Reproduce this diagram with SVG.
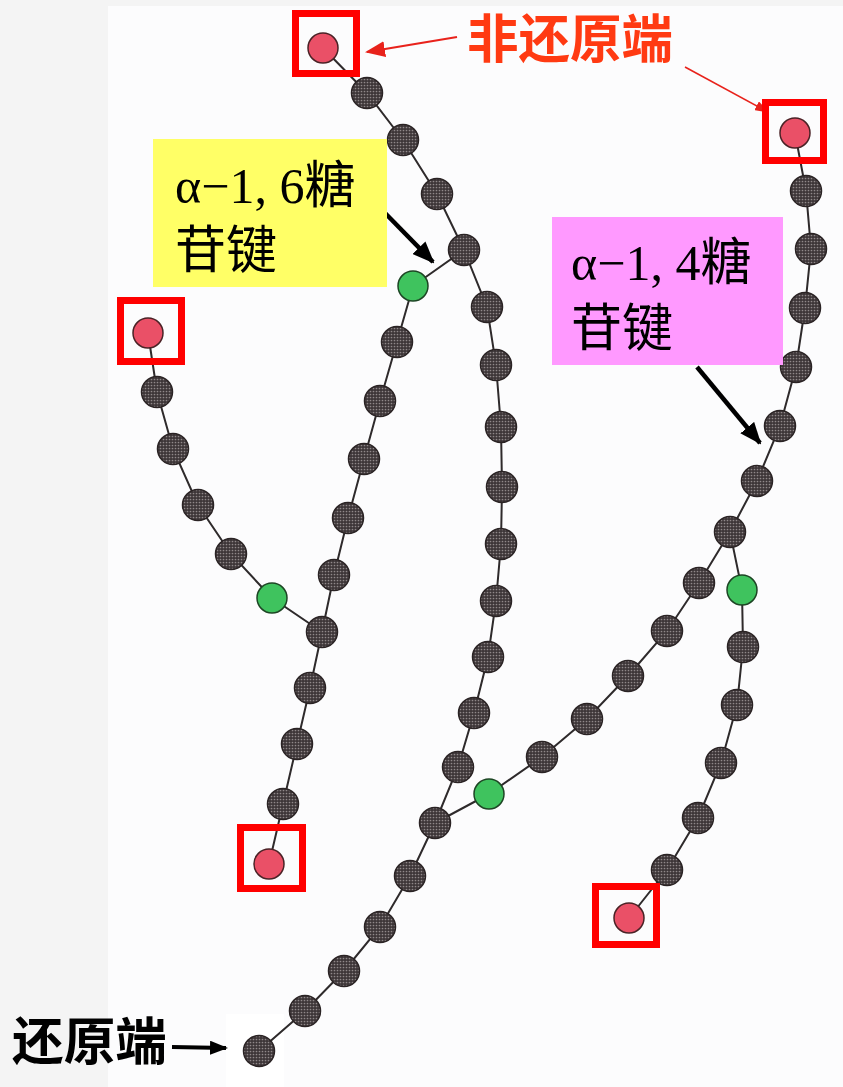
<svg xmlns="http://www.w3.org/2000/svg" width="843" height="1087" viewBox="0 0 843 1087">
  <style>
    .edge { stroke: #2e2a2b; stroke-width: 2; fill: none; stroke-linecap: round; }
    .glc { fill: url(#dots); stroke: #2a2324; stroke-width: 1.5; }
    .end { fill: #ea5067; stroke: #4a2226; stroke-width: 1.5; }
    .branch { fill: #3fc35e; stroke: #1d4524; stroke-width: 1.5; }
    .endbox { fill: none; stroke: #ff0000; stroke-width: 7; }
    .red-label { font-family: "Noto Sans CJK SC", sans-serif; font-weight: 700; font-size: 52px; fill: #ff3a12; }
    .black-label { font-family: "Noto Sans CJK SC", sans-serif; font-weight: 700; font-size: 51px; fill: #000000; }
    .box-label { font-family: "Liberation Serif", "Noto Sans CJK SC", serif; font-size: 50px; fill: #000000; }
    .cjk { font-family: "Noto Sans CJK SC", sans-serif; font-size: 51px; }
  </style>
  <defs>
    <!-- halftone dots used for the ordinary glucose residues -->
    <pattern id="dots" patternUnits="userSpaceOnUse" width="3" height="3">
      <rect width="3" height="3" fill="#3d3638"/>
      <circle cx="1.5" cy="1.5" r="0.85" fill="#908889"/>
    </pattern>
    <marker id="redHead" markerUnits="userSpaceOnUse" markerWidth="20" markerHeight="16" refX="18" refY="8" orient="auto">
      <path d="M0,0 L20,8 L0,16 Z" fill="#e8221b"/>
    </marker>
    <marker id="redHeadSmall" markerUnits="userSpaceOnUse" markerWidth="14" markerHeight="10" refX="13" refY="5" orient="auto">
      <path d="M0,0 L14,5 L0,10 Z" fill="#e8221b"/>
    </marker>
    <marker id="blackHead" markerUnits="userSpaceOnUse" markerWidth="22" markerHeight="18" refX="20" refY="9" orient="auto">
      <path d="M0,0 L22,9 L0,18 Z" fill="#000000"/>
    </marker>
    <marker id="blackHeadSmall" markerUnits="userSpaceOnUse" markerWidth="18" markerHeight="14" refX="16" refY="7" orient="auto">
      <path d="M0,0 L18,7 L0,14 Z" fill="#000000"/>
    </marker>
  </defs>

  <!-- page background -->
  <rect x="0" y="0" width="843" height="1087" fill="#f4f4f4"/>
  <rect x="108" y="6" width="735" height="1081" fill="#fcfcfd"/>
  <rect x="226" y="1014" width="58" height="73" fill="#ffffff"/>

  <!-- glycosidic bonds -->
  <g id="connectors">
    <polyline class="edge" points="323,48 367,93 403,140 437,194 464,250"/>
    <polyline class="edge" points="464,250 413,286 397,342 380,401 364,459 348,518 334,575 322,632 310,688 297,744 283,804 269,864"/>
    <polyline class="edge" points="148,333 157,392 173,449 198,505 231,554 272,598 322,632"/>
    <polyline class="edge" points="464,250 487,307 496,365 501,427 502,487 501,544 496,601 488,657 474,713 458,767 435,823 410,876 380,927 344,971 305,1011 259,1051"/>
    <line class="edge" x1="489" y1="794" x2="435" y2="823"/>
    <polyline class="edge" points="795,133 806,191 811,249 805,308 796,367 780,426 757,481 730,532 699,583 667,631 628,676 587,719 542,757 489,794"/>
    <polyline class="edge" points="730,532 742,590 743,647 737,705 721,763 698,818 667,870 629,918"/>
    <!-- annotation arrows -->
    <line x1="457" y1="37" x2="367" y2="52" stroke="#e8221b" stroke-width="2" marker-end="url(#redHead)"/>
    <line x1="685" y1="67" x2="768" y2="112" stroke="#e8221b" stroke-width="1.6" marker-end="url(#redHeadSmall)"/>
    <line x1="385" y1="213" x2="433" y2="262" stroke="#000" stroke-width="4.5" marker-end="url(#blackHead)"/>
    <line x1="697" y1="367" x2="760" y2="443" stroke="#000" stroke-width="4.5" marker-end="url(#blackHead)"/>
    <line x1="172" y1="1047" x2="226" y2="1048" stroke="#000" stroke-width="4" marker-end="url(#blackHeadSmall)"/>
  </g>

  <!-- chain from the top non-reducing end -->
  <g id="chain-top">
    <circle class="end" cx="323" cy="48" r="15"/>
    <circle class="glc" cx="367" cy="93" r="15.5"/>
    <circle class="glc" cx="403" cy="140" r="15.5"/>
    <circle class="glc" cx="437" cy="194" r="15.5"/>
    <circle class="glc" cx="464" cy="250" r="15.5"/>
  </g>

  <!-- alpha-1,6 branch descending to the lower-left end -->
  <g id="branch-left">
    <circle class="branch" cx="413" cy="286" r="15"/>
    <circle class="glc" cx="397" cy="342" r="15.5"/>
    <circle class="glc" cx="380" cy="401" r="15.5"/>
    <circle class="glc" cx="364" cy="459" r="15.5"/>
    <circle class="glc" cx="348" cy="518" r="15.5"/>
    <circle class="glc" cx="334" cy="575" r="15.5"/>
    <circle class="glc" cx="322" cy="632" r="15.5"/>
    <circle class="glc" cx="310" cy="688" r="15.5"/>
    <circle class="glc" cx="297" cy="744" r="15.5"/>
    <circle class="glc" cx="283" cy="804" r="15.5"/>
    <circle class="end" cx="269" cy="864" r="15"/>
  </g>

  <!-- side chain from the far-left end -->
  <g id="chain-far-left">
    <circle class="end" cx="148" cy="333" r="15"/>
    <circle class="glc" cx="157" cy="392" r="15.5"/>
    <circle class="glc" cx="173" cy="449" r="15.5"/>
    <circle class="glc" cx="198" cy="505" r="15.5"/>
    <circle class="glc" cx="231" cy="554" r="15.5"/>
    <circle class="branch" cx="272" cy="598" r="15"/>
  </g>

  <!-- main chain down to the reducing end -->
  <g id="chain-main">
    <circle class="glc" cx="487" cy="307" r="15.5"/>
    <circle class="glc" cx="496" cy="365" r="15.5"/>
    <circle class="glc" cx="501" cy="427" r="15.5"/>
    <circle class="glc" cx="502" cy="487" r="15.5"/>
    <circle class="glc" cx="501" cy="544" r="15.5"/>
    <circle class="glc" cx="496" cy="601" r="15.5"/>
    <circle class="glc" cx="488" cy="657" r="15.5"/>
    <circle class="glc" cx="474" cy="713" r="15.5"/>
    <circle class="glc" cx="458" cy="767" r="15.5"/>
    <circle class="glc" cx="435" cy="823" r="15.5"/>
    <circle class="glc" cx="410" cy="876" r="15.5"/>
    <circle class="glc" cx="380" cy="927" r="15.5"/>
    <circle class="glc" cx="344" cy="971" r="15.5"/>
    <circle class="glc" cx="305" cy="1011" r="15.5"/>
    <circle class="glc" cx="259" cy="1051" r="15.5"/>
  </g>

  <!-- right-hand chain -->
  <g id="chain-right">
    <circle class="end" cx="795" cy="133" r="15"/>
    <circle class="glc" cx="806" cy="191" r="15.5"/>
    <circle class="glc" cx="811" cy="249" r="15.5"/>
    <circle class="glc" cx="805" cy="308" r="15.5"/>
    <circle class="glc" cx="796" cy="367" r="15.5"/>
    <circle class="glc" cx="780" cy="426" r="15.5"/>
    <circle class="glc" cx="757" cy="481" r="15.5"/>
    <circle class="glc" cx="730" cy="532" r="15.5"/>
    <circle class="glc" cx="699" cy="583" r="15.5"/>
    <circle class="glc" cx="667" cy="631" r="15.5"/>
    <circle class="glc" cx="628" cy="676" r="15.5"/>
    <circle class="glc" cx="587" cy="719" r="15.5"/>
    <circle class="glc" cx="542" cy="757" r="15.5"/>
    <circle class="branch" cx="489" cy="794" r="15"/>
  </g>

  <!-- right-hand branch to the lower-right end -->
  <g id="branch-right">
    <circle class="branch" cx="742" cy="590" r="15"/>
    <circle class="glc" cx="743" cy="647" r="15.5"/>
    <circle class="glc" cx="737" cy="705" r="15.5"/>
    <circle class="glc" cx="721" cy="763" r="15.5"/>
    <circle class="glc" cx="698" cy="818" r="15.5"/>
    <circle class="glc" cx="667" cy="870" r="15.5"/>
    <circle class="end" cx="629" cy="918" r="15"/>
  </g>

  <!-- frames around the non-reducing ends -->
  <g id="end-frames">
    <rect class="endbox" x="295.5" y="13.5" width="61" height="60"/>
    <rect class="endbox" x="120.5" y="300.5" width="61" height="61"/>
    <rect class="endbox" x="765.5" y="102.5" width="58" height="58"/>
    <rect class="endbox" x="240.5" y="827.5" width="62" height="61"/>
    <rect class="endbox" x="595.5" y="886.5" width="61" height="58"/>
  </g>

  <!-- labels -->
  <g id="label-nonreducing">
    <text class="red-label" x="467" y="58" textLength="206" lengthAdjust="spacingAndGlyphs">非还原端</text>
  </g>
  <g id="label-reducing">
    <text class="black-label" x="12" y="1060" textLength="155" lengthAdjust="spacingAndGlyphs">还原端</text>
  </g>
  <g id="label-a16">
    <rect x="153" y="139" width="234" height="148" fill="#ffff66"/>
    <text class="box-label" x="175" y="203">α−1, 6<tspan class="cjk">糖</tspan></text>
    <text class="box-label cjk" x="175" y="268">苷键</text>
  </g>
  <g id="label-a14">
    <rect x="552" y="217" width="231" height="148" fill="#ff99ff"/>
    <text class="box-label" x="571" y="280">α−1, 4<tspan class="cjk">糖</tspan></text>
    <text class="box-label cjk" x="571" y="346">苷键</text>
  </g>
</svg>
